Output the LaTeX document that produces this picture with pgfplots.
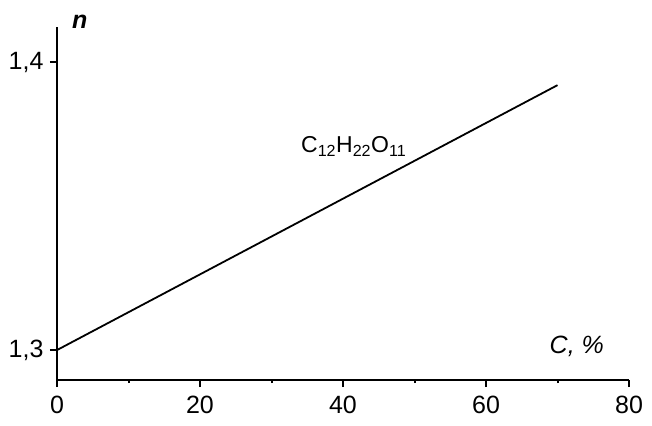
\documentclass[border=0pt]{standalone}
\usepackage{fontspec}
\setmainfont{Liberation Sans}
\usepackage{pgfplots}
\pgfplotsset{compat=1.18}
\begin{document}
\fontsize{25}{30}\selectfont
\begin{tikzpicture}[font=\fontsize{25}{30}\selectfont]
\useasboundingbox (-57pt,-45pt) rectangle (595pt,380pt);
\begin{axis}[
  at={(0,0)}, anchor=south west,
  scale only axis, width=572pt, height=353pt,
  xmin=0, xmax=80, ymin=1.2896, ymax=1.4122,
  axis lines=left,
  axis line style={-, line width=2.4pt, black},
  xtick={0,20,40,60,80},
  minor xtick={10,30,50,70},
  ytick={1.3,1.4},
  tick align=outside,
  major tick length=7pt, minor tick length=3pt,
  tick style={line width=2pt, black},
  scaled y ticks=false,
  /pgf/number format/use comma,
  /pgf/number format/assume math mode=true,
  yticklabel style={/pgf/number format/fixed, /pgf/number format/fixed zerofill, /pgf/number format/precision=1, xshift=2pt},
  xticklabel style={yshift=-1pt},
  tick label style={font=\fontsize{25}{30}\selectfont},
  clip=false,
]
\addplot[black, line width=1.8pt] coordinates {(0,1.3) (70,1.392)};
\node at (axis cs:3.2,1.4139) {\textbf{\textit{n}}};
\node at (axis cs:72.7,1.3012) {\textit{C, \%}};
\node[font=\fontsize{23}{27}\selectfont] at (axis cs:41.5,1.3708) {C\textsubscript{12}H\textsubscript{22}O\textsubscript{11}};
\end{axis}
\end{tikzpicture}
\end{document}
